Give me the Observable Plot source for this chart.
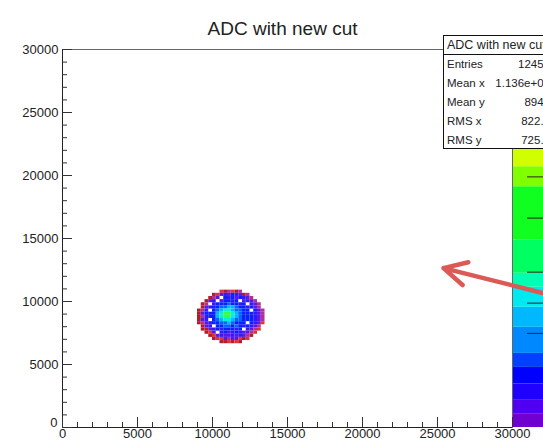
<!DOCTYPE html>
<html><head><meta charset="utf-8">
<script src="https://cdn.jsdelivr.net/npm/d3@7"></script>
<script src="https://cdn.jsdelivr.net/npm/@observablehq/plot@0.6"></script>
<style>
body{margin:0;background:#fff;}
#chart{width:543px;height:445px;overflow:hidden;}
</style></head><body><div id="chart"></div>
<script>
// ---------- data ----------
const title = "ADC with new cut";
const xDomain = [0, 30000];
const yDomain = [0, 30000];
const xTickLabels = [0, 5000, 10000, 15000, 20000, 25000, 30000];
const yTickLabels = [0, 5000, 10000, 15000, 20000, 25000, 30000];
const xMinorTicks = d3.range(0, 30001, 1000);
const yMinorTicks = d3.range(0, 30001, 1000);

const statsTitle = "ADC with new cut";
const statsLabels = ["Entries", "Mean x", "Mean y", "RMS x", "RMS y"];
const statsValues = ["12458", "1.136e+04", "8940", "822.4", "725.3"];

// 2D histogram bins (values read as colour levels, top row first)
const binX0 = 9000, binY0 = 6650, binW = 250, binH = 250;
const cellRows = [
  "......rRmrRm......",
  "....RrpvpbvpRm....",
  "...Rmp.bvbpbvpm...",
  "..Rpv.pbbvb.pvpm..",
  ".Rm.vbbblbbvb.vpm.",
  ".Rpvbbllcclbbvbpm.",
  "Rmv.blcaacllbb.bpm",
  "Rpbbbcaggaclbbbvpm",
  "Rmvbbcaggaclbbbvpm",
  "Rpv.blcaacllbbbvpm",
  "Rmpvbbllclbbb.bvpr",
  ".Rpv.bbllblbvbvpm.",
  ".RRpvbvbbbvb.vpmr.",
  "..Rrp.vbpvbvppmr..",
  "...RrpvppvpvpmR...",
  "....RrrpmpprRr....",
  "......RRrRrR......"
];
const levelCodes  = ["R", "r", "m", "p", "v", "b", "l", "c", "a", "g"];
const levelColors = ["#b01c2c", "#e03434", "#b03098", "#5a18e0", "#3018ff", "#0a20ff", "#0068ff", "#00b8ff", "#00f0d8", "#30ff50"];

// colour palette bar (fraction of the z axis, bottom to top)
const paletteLo = [0, 0.035, 0.072, 0.115, 0.159, 0.196, 0.265, 0.318, 0.371, 0.408, 0.496, 0.637, 0.690, 0.760, 0.830, 0.900];
const paletteHi = [0.035, 0.072, 0.115, 0.159, 0.196, 0.265, 0.318, 0.371, 0.408, 0.496, 0.637, 0.690, 0.760, 0.830, 0.900, 1.0];
const paletteColors = ["#7000d0", "#5000f0", "#2000ff", "#0000ff", "#0040ff", "#0088ff", "#00b8ff", "#00e8f0", "#00ffb0", "#00ff60", "#10ff20", "#80ff00", "#d0ff00", "#ffd000", "#ff8000", "#ff2000"];
const paletteTicks = [0.159, 0.249, 0.329, 0.411, 0.554, 0.663, 0.78, 0.9];

// annotation arrow (tail -> tip)
const arrowTail = {x: 33200, y: 10320};
const arrowTip = {x: 25400, y: 12650};

// ---------- build ----------
const W = 543, H = 445;
const margin = {top: 49, right: 31, bottom: 18, left: 62};
const frameW = W - margin.left - margin.right;
const frameH = H - margin.top - margin.bottom;
const font = "'Liberation Sans', Arial, Helvetica, sans-serif";

const cells = [];
cellRows.forEach((row, i) => {
  [...row].forEach((ch, j) => {
    if (ch !== ".") cells.push({col: j, row: cellRows.length - 1 - i, code: ch});
  });
});
const palette = paletteLo.map((lo, i) => ({lo, hi: paletteHi[i], code: "P" + i}));
const colorDomain = [...levelCodes, ...palette.map(d => d.code)];
const colorRange = [...levelColors, ...paletteColors];
const yMax = yDomain[1], xMax = xDomain[1];

const chart = Plot.plot({
  width: W, height: H,
  marginTop: margin.top, marginRight: margin.right, marginBottom: margin.bottom, marginLeft: margin.left,
  style: {fontFamily: font, background: "white", color: "#222"},
  x: {domain: xDomain, axis: null},
  y: {domain: yDomain, axis: null},
  color: {type: "ordinal", domain: colorDomain, range: colorRange},
  marks: [
    Plot.rect(cells, {
      x1: d => binX0 + d.col * binW, x2: d => binX0 + (d.col + 1) * binW,
      y1: d => binY0 + d.row * binH, y2: d => binY0 + (d.row + 1) * binH,
      fill: "code"
    }),
    // palette bar
    Plot.rect(palette, {
      x1: xMax, x2: xMax, insetLeft: 1, insetRight: -45,
      y1: d => d.lo * yMax, y2: d => d.hi * yMax, fill: "code"
    }),
    Plot.ruleY(paletteTicks, {y: d => d * yMax, x1: xMax, x2: xMax, insetLeft: 15, insetRight: -45, stroke: "#222"}),
    Plot.ruleX([xMax], {stroke: "#444", insetRight: -1}),
    Plot.frame({stroke: "#666"}),
    Plot.ruleX([0], {stroke: "#222"}),
    Plot.ruleY([0], {stroke: "#222"}),
    // ticks (inside frame)
    Plot.ruleX(xMinorTicks, {x: d => d, insetTop: frameH - 5, stroke: "#333"}),
    Plot.ruleX(xTickLabels, {x: d => d, insetTop: frameH - 10, stroke: "#333"}),
    Plot.ruleY(yMinorTicks, {y: d => d, insetRight: frameW - 5, stroke: "#333"}),
    Plot.ruleY(yTickLabels, {y: d => d, insetRight: frameW - 10, stroke: "#333"}),
    // tick labels
    Plot.text(xTickLabels, {x: d => d, frameAnchor: "bottom", dy: 10, text: d => String(d), fontSize: 13, fill: "#222"}),
    Plot.text(yTickLabels.filter(d => d !== 0), {y: d => d, frameAnchor: "left", dx: -4, textAnchor: "end", text: d => String(d), fontSize: 13, fill: "#222"}),
    Plot.text(yTickLabels.filter(d => d === 0), {y: d => d, frameAnchor: "left", dx: -5, dy: -5, textAnchor: "end", text: d => String(d), fontSize: 13, fill: "#222"}),
    // arrow annotation
    Plot.arrow([{x1: arrowTail.x, y1: arrowTail.y, x2: arrowTip.x, y2: arrowTip.y}], {
      x1: "x1", y1: "y1", x2: "x2", y2: "y2",
      stroke: "#dc5a56", strokeWidth: 4.5, headLength: 8.5, headAngle: 55
    }),
    // title
    Plot.text([title], {frameAnchor: "top", dy: -28, dx: -5, fontSize: 19, fill: "#222"})
  ]
});
document.getElementById("chart").appendChild(chart);

// statistics box
const svg = d3.select(chart);
const g = svg.append("g").attr("font-family", font).attr("fill", "#222").attr("text-anchor", "start");
g.append("rect").attr("x", 443.5).attr("y", 35.5).attr("width", 130).attr("height", 113)
  .attr("fill", "white").attr("stroke", "#111");
g.append("line").attr("x1", 443.5).attr("x2", 575).attr("y1", 54.5).attr("y2", 54.5).attr("stroke", "#111");
g.append("text").attr("x", 447).attr("y", 49).attr("font-size", 12.5).attr("text-anchor", "start").text(statsTitle);
statsLabels.forEach((lab, i) => {
  g.append("text").attr("x", 447).attr("y", 68 + i * 19).attr("font-size", 11.5).attr("text-anchor", "start").text(lab);
  g.append("text").attr("x", 550).attr("y", 68 + i * 19).attr("font-size", 11.5)
    .attr("text-anchor", "end").text(statsValues[i]);
});
</script></body></html>
